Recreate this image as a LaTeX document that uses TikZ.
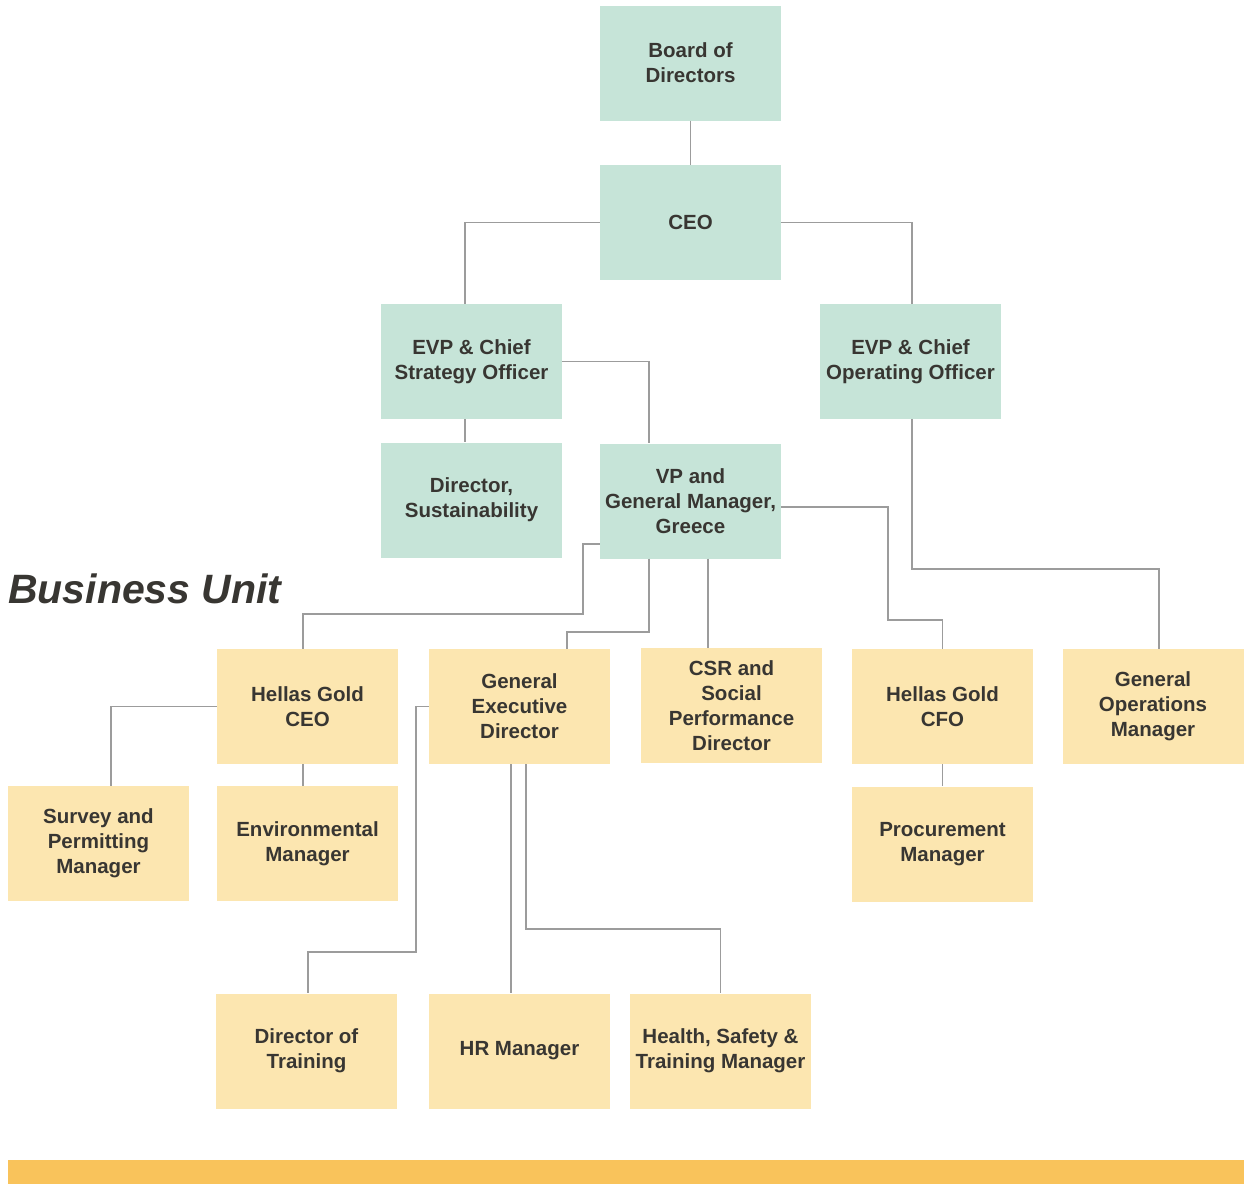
\documentclass[tikz,border=0pt]{standalone}
\usepackage{fontspec}
\setmainfont{Liberation Sans}
\begin{document}
\definecolor{mint}{HTML}{C6E4D8}
\definecolor{cream}{HTML}{FCE6B0}
\definecolor{amber}{HTML}{F9C35B}
\definecolor{ink}{HTML}{383632}
\definecolor{wire}{HTML}{9C9C9C}
\begin{tikzpicture}[x=1pt,y=-1pt,
  card/.style={rectangle, minimum width=181, minimum height=115, inner sep=0pt,
    align=center, text=ink, font=\bfseries\fontsize{20.5}{25}\selectfont},
  hq/.style={card, fill=mint},
  unit/.style={card, fill=cream},
  link/.style={draw=wire, line width=1.4pt}]
\fill[white] (0,0) rectangle (1244,1184);
\useasboundingbox (0,0) rectangle (1244,1184);

% corporate level
\node[hq] (board) at (690.5,63) {Board of\\Directors};
\node[hq] (ceo) at (690.5,222.5) {CEO};
\node[hq] (cso) at (471.5,361.5) {EVP \& Chief\\Strategy Officer};
\node[hq] (coo) at (910.5,361.5) {EVP \& Chief\\Operating Officer};
\node[hq] (sust) at (471.5,500) {Director,\\Sustainability};
\node[hq] (vp) at (690.5,501) {VP and\\General Manager,\\Greece};

% business unit
\node[anchor=base west, inner sep=0pt, text=ink,
  font=\bfseries\itshape\fontsize{41}{45}\selectfont] (bu) at (8,603) {Business Unit};
\node[unit] (hgceo) at (307.5,706.5) {Hellas Gold\\CEO};
\node[unit] (ged) at (519.5,706.5) {General\\Executive\\Director};
\node[unit] (csr) at (731.5,705.5) {CSR and\\Social\\Performance\\Director};
\node[unit] (cfo) at (942.5,706.5) {Hellas Gold\\CFO};
\node[unit] (gom) at (1153,706.5) {General\\Operations\\Manager};
\node[unit] (survey) at (98.5,843.5) {Survey and\\Permitting\\Manager};
\node[unit] (env) at (307.5,843.5) {Environmental\\Manager};
\node[unit] (proc) at (942.5,844) {Procurement\\Manager};
\node[unit] (train) at (306.5,1051) {Director of\\Training};
\node[unit] (hr) at (519.5,1051) {HR Manager};
\node[unit] (hst) at (720.5,1051) {Health, Safety \&\\Training Manager};

% reporting lines
\draw[link] (board.south) -- (ceo.north);
\draw[link] (ceo.west) -| ([xshift=-6.5]cso.north);
\draw[link] (ceo.east) -| ([xshift=1.5]coo.north);
\draw[link] ([xshift=-6.5]cso.south) -- ([xshift=-6.5]sust.north);
\draw[link] (cso.east) -| ([xshift=-41.5]vp.north);
\draw[link] ([yshift=-6]vp.east) -- (888,507) -- (888,620) -| (cfo.north);
\draw[link] ([xshift=1.5]coo.south) -- (912,569) -| ([xshift=6]gom.north);
\draw[link] ([yshift=-43]vp.west) -- (583,544) -- (583,614) -| ([xshift=-4.5]hgceo.north);
\draw[link] ([xshift=-41.5]vp.south) -- (649,632) -| ([xshift=47.5]ged.north);
\draw[link] ([xshift=17.5]vp.south) -- ([xshift=-23.5]csr.north);
\draw[link] (hgceo.west) -| ([xshift=12.5]survey.north);
\draw[link] ([xshift=-4.5]hgceo.south) -- ([xshift=-4.5]env.north);
\draw[link] (ged.west) -- (416,706.5) -- (416,952) -| ([xshift=1.5]train.north);
\draw[link] ([xshift=-8.5]ged.south) -- ([xshift=-8.5]hr.north);
\draw[link] ([xshift=6.5]ged.south) -- (526,929) -| (hst.north);
\draw[link] (cfo.south) -- (proc.north);

% footer band
\fill[amber] (8,1160) rectangle (1244,1184);
\end{tikzpicture}
\end{document}
